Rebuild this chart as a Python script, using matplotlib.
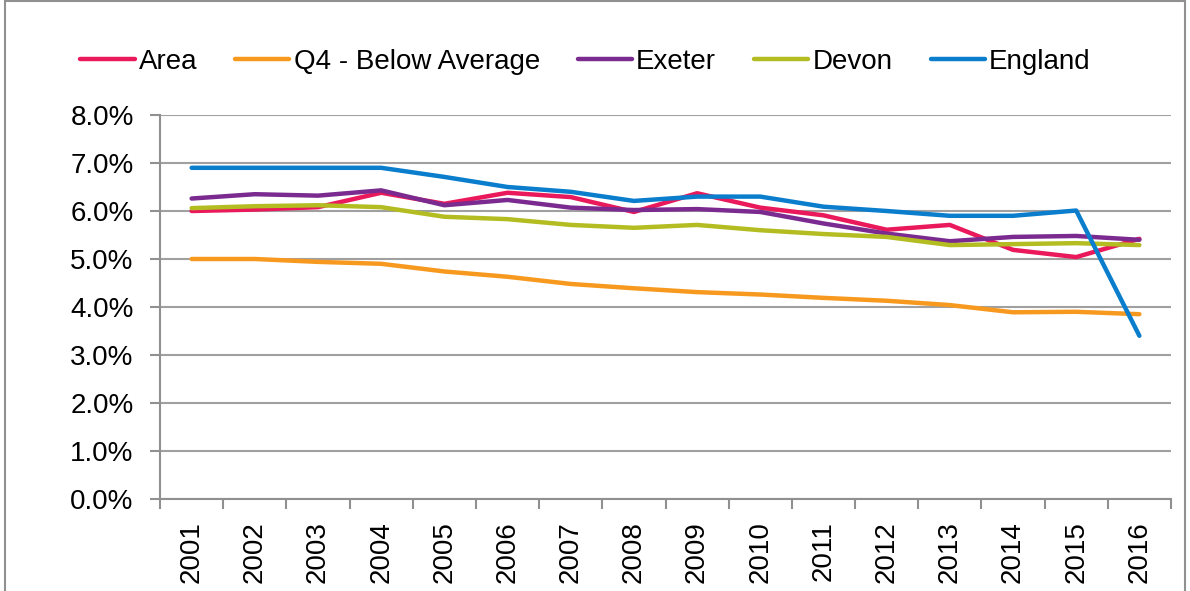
import numpy as np
import matplotlib
matplotlib.use("Agg")
import matplotlib.pyplot as plt
from matplotlib.patches import Rectangle
from matplotlib.ticker import FuncFormatter

plt.rcParams['font.family'] = ['Liberation Sans', 'DejaVu Sans']

years = ['2001', '2002', '2003', '2004', '2005', '2006', '2007', '2008',
         '2009', '2010', '2011', '2012', '2013', '2014', '2015', '2016']

area    = [6.00, 6.03, 6.08, 6.38, 6.15, 6.38, 6.29, 5.98, 6.37, 6.07, 5.91, 5.61, 5.71, 5.19, 5.04, 5.42]
q4      = [5.00, 5.00, 4.94, 4.90, 4.74, 4.63, 4.48, 4.39, 4.31, 4.26, 4.19, 4.13, 4.04, 3.89, 3.90, 3.85]
exeter  = [6.26, 6.35, 6.32, 6.43, 6.12, 6.23, 6.07, 6.02, 6.04, 5.98, 5.74, 5.53, 5.37, 5.46, 5.48, 5.40]
devon   = [6.06, 6.10, 6.12, 6.08, 5.88, 5.83, 5.71, 5.65, 5.71, 5.60, 5.52, 5.46, 5.29, 5.31, 5.33, 5.29]
england = [6.90, 6.90, 6.90, 6.90, 6.71, 6.50, 6.40, 6.21, 6.30, 6.30, 6.09, 6.00, 5.90, 5.90, 6.01, 3.40]

series = [('Area', area, '#E9195B'),
          ('Q4 - Below Average', q4, '#F7991F'),
          ('Exeter', exeter, '#7B2B8F'),
          ('Devon', devon, '#B3BD21'),
          ('England', england, '#0A7DCC')]

fig = plt.figure(figsize=(11.9, 5.91), dpi=100)
ax = fig.add_axes([0.1345, 0.1557, 0.8495, 0.6497])

x = np.arange(len(years))
for name, vals, col in series:
    ax.plot(x, vals, color=col, lw=3.2, solid_capstyle='round',
            solid_joinstyle='round', label=name)

ax.set_xlim(-0.5, len(years) - 0.5)
ax.set_ylim(0, 8)
ax.set_yticks(np.arange(0, 9, 1))
ax.yaxis.set_major_formatter(FuncFormatter(lambda v, p: '%.1f%%' % v))
ax.grid(axis='y', color='#A0A0A0', lw=1.5)
ax.set_axisbelow(True)

# ticks at category boundaries, labels at centres
ax.set_xticks(np.arange(-0.5, len(years), 1))
ax.set_xticklabels([])
ax.set_xticks(x, minor=True)
ax.set_xticklabels(years, minor=True, rotation=90, fontsize=20)
ax.tick_params(axis='x', which='minor', length=0, pad=16)
ax.tick_params(axis='x', which='major', length=7, width=1.5, color='#909090')
ax.tick_params(axis='y', length=7, width=1.5, color='#909090', labelsize=20, pad=12)

for s in ['top', 'right']:
    ax.spines[s].set_visible(False)
for s in ['left', 'bottom']:
    ax.spines[s].set_color('#909090')
    ax.spines[s].set_linewidth(1.5)

fig.legend(loc='center', bbox_to_anchor=(0.492, 0.895), ncol=5, frameon=False,
           fontsize=20, handlelength=1.95, handletextpad=0.15, columnspacing=1.37)

fig.patches.append(Rectangle((0.004, -0.1), 0.992, 1.098, transform=fig.transFigure,
                             fill=False, edgecolor='#909090', lw=1.5))

fig.savefig('out.png', dpi=100)
